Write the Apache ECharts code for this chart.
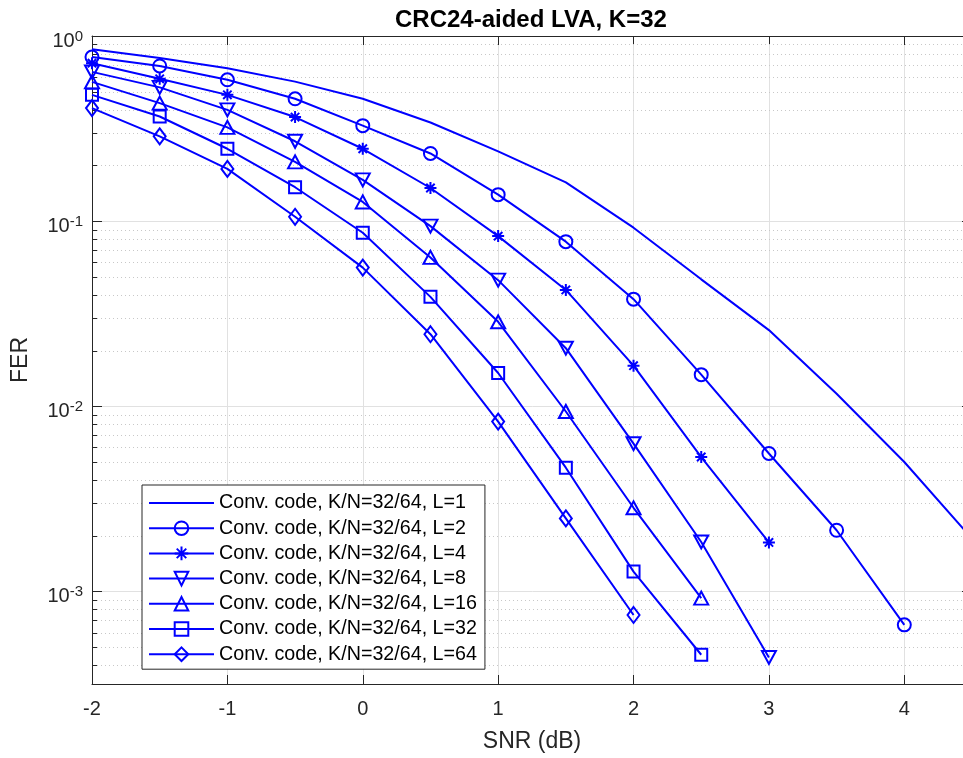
<!DOCTYPE html>
<html>
<head>
<meta charset="utf-8">
<script src="https://cdn.jsdelivr.net/npm/echarts@6/dist/echarts.min.js"></script>
<style>
  html, body { margin: 0; padding: 0; background: #fff; overflow: hidden; }
  #wrap { width: 963px; height: 758px; overflow: hidden; }
  #curve { width: 980px; height: 758px; }
</style>
</head>
<body>
<div id="wrap"><div id="curve"></div></div>
<script>
// SNR (dB) 采样点
var snr = [-2, -1.5, -1, -0.5, 0, 0.5, 1, 1.5, 2, 2.5, 3, 3.5, 4, 4.5];
// FER 曲线（按列表大小 L）
var ferL1  = [0.848, 0.761, 0.670, 0.567, 0.458, 0.341, 0.238, 0.162, 0.0922, 0.0485, 0.0258, 0.01168, 0.0050, 0.00193];
var ferL2  = [0.770, 0.689, 0.580, 0.458, 0.328, 0.232, 0.139, 0.0775, 0.0379, 0.01482, 0.00556, 0.00214, 0.00066];
var ferL4  = [0.713, 0.587, 0.481, 0.365, 0.246, 0.151, 0.083, 0.0425, 0.01657, 0.00532, 0.00184];
var ferL8  = [0.640, 0.528, 0.399, 0.270, 0.167, 0.094, 0.048, 0.0206, 0.00628, 0.00185, 0.00044];
var ferL16 = [0.565, 0.434, 0.321, 0.209, 0.127, 0.0637, 0.0286, 0.00937, 0.00283, 0.00092];
var ferL32 = [0.481, 0.3675, 0.246, 0.1525, 0.0866, 0.039, 0.01513, 0.00466, 0.00128, 0.000455];
var ferL64 = [0.408, 0.287, 0.1915, 0.1056, 0.0561, 0.0245, 0.00827, 0.00248, 0.000746];
var seriesNames = [
    'Conv. code, K/N=32/64, L=1',
    'Conv. code, K/N=32/64, L=2',
    'Conv. code, K/N=32/64, L=4',
    'Conv. code, K/N=32/64, L=8',
    'Conv. code, K/N=32/64, L=16',
    'Conv. code, K/N=32/64, L=32',
    'Conv. code, K/N=32/64, L=64'
];
// 坐标轴刻度
var xMin = -2, xMax = 4.5;
var yMinExp = -3.5, yMaxExp = 0;
var decadeExps = [-4, -3, -2, -1, 0];
var minorMults = [2, 3, 4, 5, 6, 7, 8, 9];

var BLUE = '#0000ff';
var AXIS = '#262626';
var FONT = '"Liberation Sans", Arial, Helvetica, sans-serif';

function toPoints(fer) {
    return fer.map(function (v, i) { return [snr[i], Math.log10(v)]; });
}

// 对数网格线（主/次）
var gridData = [];
decadeExps.forEach(function (d) {
    if (d >= yMinExp && d <= yMaxExp) gridData.push([xMin, d, 1]);
    if (d < yMaxExp) {
        minorMults.forEach(function (m) {
            var v = d + Math.log10(m);
            if (v > yMinExp && v < yMaxExp) gridData.push([xMin, v, 0]);
        });
    }
});

function crisp(v) { return Math.round(v) + 0.5; }

function renderGrid(params, api) {
    var v = api.value(1);
    var major = api.value(2) === 1;
    var p0 = api.coord([xMin, v]);
    var p1 = api.coord([xMax, v]);
    var y = crisp(p0[1]);
    var len = major ? 10 : 5;
    var children = [];
    if (v < yMaxExp - 1e-9) {
        children.push({
            type: 'line',
            shape: { x1: p0[0] + 1, y1: y, x2: p1[0], y2: y },
            style: major ? { stroke: '#e1e1e1', lineWidth: 1 }
                         : { stroke: '#c8c8c8', lineWidth: 1, lineDash: [1, 3] }
        });
    }
    children.push({
        type: 'line',
        shape: { x1: p0[0], y1: y, x2: p0[0] + len, y2: y },
        style: { stroke: AXIS, lineWidth: 1 }
    });
    children.push({
        type: 'line',
        shape: { x1: p1[0] - len, y1: y, x2: p1[0], y2: y },
        style: { stroke: AXIS, lineWidth: 1 }
    });
    return { type: 'group', children: children };
}

var markerStyle = { color: 'rgba(0,0,0,0)', borderColor: BLUE, borderWidth: 2 };
var noMarkerStyle = { color: 'rgba(0,0,0,0)', borderColor: 'rgba(0,0,0,0)', borderWidth: 0 };
var symbols = [
    { symbol: 'circle', size: 0, show: false },
    { symbol: 'circle', size: 13, show: true },
    { symbol: 'path://M0,-10L0,10M-10,0L10,0M-7,-7L7,7M-7,7L7,-7', size: 12, show: true },
    { symbol: 'path://M-10,-8L10,-8L0,9Z', size: [14, 13], show: true },
    { symbol: 'path://M-10,8L10,8L0,-9Z', size: [14, 13], show: true },
    { symbol: 'rect', size: 12, show: true },
    { symbol: 'path://M0,-10L7,0L0,10L-7,0Z', size: [12, 16], show: true }
];
var ferAll = [ferL1, ferL2, ferL4, ferL8, ferL16, ferL32, ferL64];

var series = [{
    type: 'custom',
    name: 'grid',
    silent: true,
    z: 1,
    renderItem: renderGrid,
    data: gridData,
    encode: { x: 0, y: 1 }
}];
ferAll.forEach(function (fer, i) {
    series.push({
        type: 'line',
        name: seriesNames[i],
        data: toPoints(fer),
        z: 3,
        symbol: symbols[i].symbol,
        symbolSize: symbols[i].size,
        showSymbol: symbols[i].show,
        lineStyle: { color: BLUE, width: 2 },
        itemStyle: symbols[i].show ? markerStyle : noMarkerStyle,
        emphasis: { disabled: true },
        animation: false
    });
});

var myChart = echarts.init(document.getElementById('curve'));
var option = {
    backgroundColor: '#fff',
    animation: false,
    title: {
        text: 'CRC24-aided LVA, K=32',
        left: 395,
        top: 8,
        padding: 0,
        textStyle: { fontFamily: FONT, fontWeight: 'bold', fontSize: 24, color: '#000' }
    },
    grid: { left: 92, top: 36, width: 880, height: 650, containLabel: false },
    legend: {
        orient: 'vertical',
        left: 142,
        top: 485,
        padding: [8, 8, 5, 6],
        itemWidth: 65,
        itemHeight: 17,
        itemGap: 5.2,
        backgroundColor: '#fff',
        borderColor: AXIS,
        borderWidth: 1,
        borderRadius: 0,
        data: seriesNames,
        textStyle: { fontFamily: FONT, fontSize: 19.7, color: '#000' }
    },
    xAxis: [{
        type: 'value',
        min: xMin,
        max: xMax,
        interval: 1,
        name: 'SNR (dB)',
        nameLocation: 'middle',
        nameGap: 46,
        nameTextStyle: { fontFamily: FONT, fontSize: 23, color: AXIS },
        axisLine: { show: true, onZero: false, lineStyle: { color: AXIS, width: 1 } },
        axisTick: { show: true, inside: true, length: 9, lineStyle: { color: AXIS } },
        axisLabel: { fontFamily: FONT, fontSize: 20, color: AXIS, margin: 15, showMaxLabel: false },
        splitLine: { show: true, lineStyle: { color: '#e1e1e1', width: 1 } }
    }, {
        type: 'value',
        position: 'top',
        min: xMin,
        max: xMax,
        interval: 1,
        axisLine: { show: true, onZero: false, lineStyle: { color: AXIS, width: 1 } },
        axisTick: { show: true, inside: true, length: 9, lineStyle: { color: AXIS } },
        axisLabel: { show: false },
        splitLine: { show: false }
    }],
    yAxis: {
        type: 'value',
        min: yMinExp,
        max: yMaxExp,
        interval: 0.5,
        name: 'FER',
        nameLocation: 'middle',
        nameRotate: 90,
        nameGap: 60,
        nameTextStyle: { fontFamily: FONT, fontSize: 23, color: AXIS },
        axisLine: { show: true, onZero: false, lineStyle: { color: AXIS, width: 1 } },
        axisTick: { show: false },
        splitLine: { show: false },
        axisLabel: {
            margin: 9,
            padding: [10, 0, 0, 0],
            formatter: function (v) {
                if (Math.abs(v - Math.round(v)) > 1e-6) return '';
                return '{b|10}{s|' + Math.round(v) + '}';
            },
            rich: {
                b: { fontFamily: FONT, fontSize: 20, color: AXIS },
                s: { fontFamily: FONT, fontSize: 15, color: AXIS, padding: [0, 0, 9, 0] }
            }
        }
    },
    series: series
};
myChart.setOption(option);
</script>
</body>
</html>
